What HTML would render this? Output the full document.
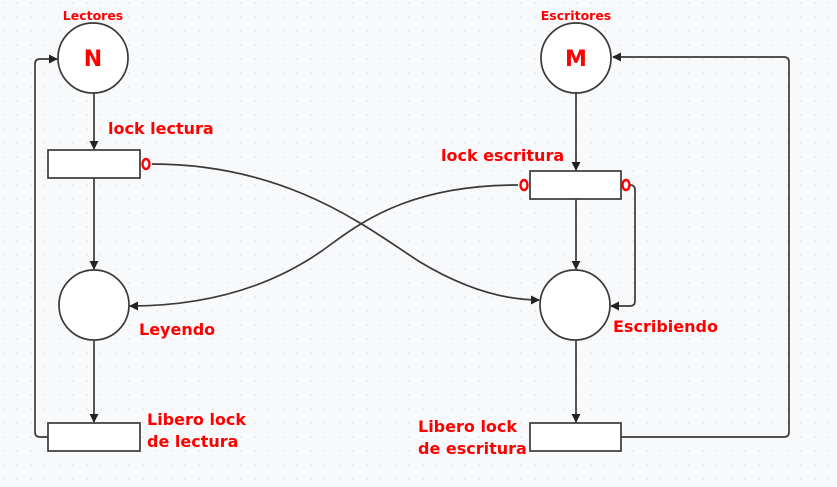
<!DOCTYPE html>
<html><head><meta charset="utf-8"><style>
html,body{margin:0;padding:0;background:#f8f9fb;}
svg{display:block}
text{font-family:"DejaVu Sans","Liberation Sans",sans-serif;font-weight:bold;fill:#ff0000}
</style></head><body>
<svg width="837" height="487" viewBox="0 0 837 487" xmlns="http://www.w3.org/2000/svg">
<defs>
<pattern id="dots" width="14" height="14" patternUnits="userSpaceOnUse">
<circle cx="3" cy="3" r="0.8" fill="#dde0e6"/>
</pattern>
<marker id="ar" viewBox="0 0 10 10" refX="9" refY="5" markerWidth="9" markerHeight="9" markerUnits="userSpaceOnUse" orient="auto">
<path d="M0,0 L10,5 L0,10 z" fill="#222"/>
</marker>
</defs>
<rect width="837" height="487" fill="#f8f9fb"/>
<rect width="837" height="487" fill="url(#dots)"/>
<g stroke="#3a3a3a" stroke-width="1.7" fill="none">
<line x1="94" y1="93" x2="94" y2="149" marker-end="url(#ar)"/>
<line x1="94" y1="178" x2="94" y2="269" marker-end="url(#ar)"/>
<line x1="94" y1="341" x2="94" y2="422" marker-end="url(#ar)"/>
<line x1="576" y1="93" x2="576" y2="170" marker-end="url(#ar)"/>
<line x1="576" y1="199" x2="576" y2="269" marker-end="url(#ar)"/>
<line x1="576" y1="341" x2="576" y2="422" marker-end="url(#ar)"/>
<path d="M48,437 H40 Q35,437 35,432 V64 Q35,59 40,59 H57" marker-end="url(#ar)"/>
<path d="M621,437 H784 Q789,437 789,432 V62 Q789,57 784,57 H613" marker-end="url(#ar)"/>
<path d="M630,185 Q635,185 635,190 V301 Q635,306 630,306 H611" marker-end="url(#ar)"/>
<path d="M152,164 C290,164 370,230 420,262 C460,286 500,300 539,300" marker-end="url(#ar)"/>
<path d="M518,185 C420,185 370,215 330,245 C270,290 200,306 130,306" marker-end="url(#ar)"/>
</g>
<g stroke="#3a3a3a" stroke-width="1.7" fill="#fff">
<circle cx="93" cy="58" r="35"/>
<circle cx="576" cy="58" r="35"/>
<circle cx="94" cy="305" r="35"/>
<circle cx="575" cy="305" r="35"/>
<rect x="48" y="150" width="92" height="28"/>
<rect x="530" y="171" width="91" height="28"/>
<rect x="48" y="423" width="92" height="28"/>
<rect x="530" y="423" width="91" height="28"/>
</g>
<g stroke="#ff0000" stroke-width="2.4" fill="none">
<ellipse cx="146" cy="164" rx="3.5" ry="5"/>
<ellipse cx="524" cy="185" rx="3.5" ry="5"/>
<ellipse cx="626" cy="185" rx="3.5" ry="5"/>
</g>
<text x="93" y="20" font-size="12.5" text-anchor="middle">Lectores</text>
<text x="576" y="20" font-size="12.5" text-anchor="middle">Escritores</text>
<text x="93" y="66" font-size="22" text-anchor="middle">N</text>
<text x="576" y="66" font-size="22" text-anchor="middle">M</text>
<text x="108" y="134" font-size="16">lock lectura</text>
<text x="441" y="161" font-size="16">lock escritura</text>
<text x="139" y="335" font-size="16">Leyendo</text>
<text x="613" y="332" font-size="16">Escribiendo</text>
<text x="147" y="425" font-size="16">Libero lock</text>
<text x="147" y="447" font-size="16">de lectura</text>
<text x="418" y="432" font-size="16">Libero lock</text>
<text x="418" y="454" font-size="16">de escritura</text>
</svg>
</body></html>
